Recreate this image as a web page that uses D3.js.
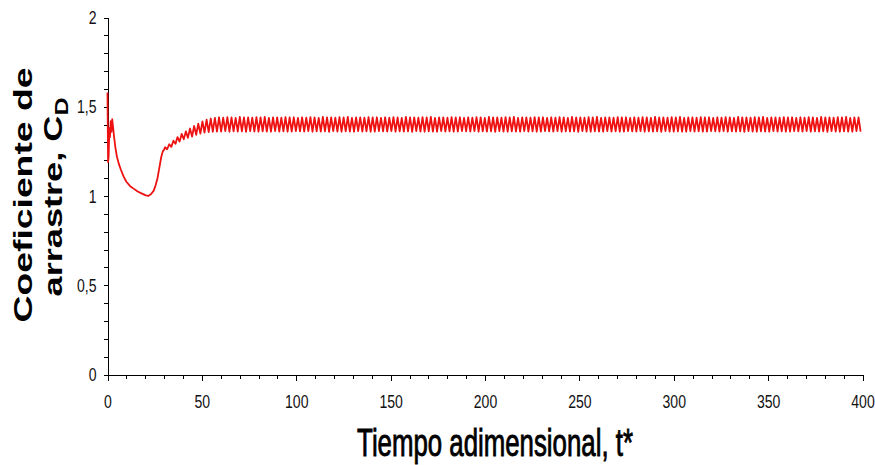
<!DOCTYPE html>
<html><head><meta charset="utf-8">
<script src="https://cdn.jsdelivr.net/npm/d3@7"></script>
<style>body{margin:0;background:#fff}</style></head>
<body><svg id="c" width="875" height="465"></svg>
<script>
// ---- data ----
const transientT  = [0, 0.3, 0.6, 1.0, 1.3, 1.7, 2.1, 2.5, 3.0, 3.5, 4.2, 5, 6, 7, 8.5, 10, 12, 14, 16, 18, 20, 21.5, 23, 24.5, 25.5, 26.5, 27.5, 28.5, 29.3, 30];
const transientCD = [1.58, 1.19, 1.22, 1.38, 1.33, 1.42, 1.36, 1.43, 1.38, 1.33, 1.27, 1.22, 1.18, 1.15, 1.11, 1.08, 1.055, 1.04, 1.025, 1.015, 1.005, 1.0, 1.01, 1.03, 1.06, 1.10, 1.16, 1.22, 1.25, 1.26];
const oscStartT = 30.5, oscStepT = 1.1;
const oscCD = [
1.273,1.262,1.290,1.275,1.310,1.292,1.330,1.305,1.348,1.318,1.362,1.326,1.378,1.333,1.392,1.343,1.405,1.350,1.418,1.355,1.428,1.358,1.434,1.360,1.438,1.361,
1.441,1.361,1.439,1.363,1.442,1.360,1.440,1.362,1.438,1.361,1.443,1.362,1.440,1.359,1.441,1.363,1.439,1.361,1.442,1.360,
1.440,1.362,1.443,1.361,1.438,1.360,1.441,1.363,1.440,1.361,1.439,1.362,1.442,1.360,1.440,1.361,1.441,1.363,1.438,1.362,
1.441,1.361,1.439,1.363,1.442,1.360,1.440,1.362,1.438,1.361,1.443,1.362,1.440,1.359,1.441,1.363,1.439,1.361,1.442,1.360,
1.440,1.362,1.443,1.361,1.438,1.360,1.441,1.363,1.440,1.361,1.439,1.362,1.442,1.360,1.440,1.361,1.441,1.363,1.438,1.362,
1.441,1.361,1.439,1.363,1.442,1.360,1.440,1.362,1.438,1.361,1.443,1.362,1.440,1.359,1.441,1.363,1.439,1.361,1.442,1.360,
1.440,1.362,1.443,1.361,1.438,1.360,1.441,1.363,1.440,1.361,1.439,1.362,1.442,1.360,1.440,1.361,1.441,1.363,1.438,1.362,
1.441,1.361,1.439,1.363,1.442,1.360,1.440,1.362,1.438,1.361,1.443,1.362,1.440,1.359,1.441,1.363,1.439,1.361,1.442,1.360,
1.440,1.362,1.443,1.361,1.438,1.360,1.441,1.363,1.440,1.361,1.439,1.362,1.442,1.360,1.440,1.361,1.441,1.363,1.438,1.362,
1.441,1.361,1.439,1.363,1.442,1.360,1.440,1.362,1.438,1.361,1.443,1.362,1.440,1.359,1.441,1.363,1.439,1.361,1.442,1.360,
1.440,1.362,1.443,1.361,1.438,1.360,1.441,1.363,1.440,1.361,1.439,1.362,1.442,1.360,1.440,1.361,1.441,1.363,1.438,1.362,
1.441,1.361,1.439,1.363,1.442,1.360,1.440,1.362,1.438,1.361,1.443,1.362,1.440,1.359,1.441,1.363,1.439,1.361,1.442,1.360,
1.440,1.362,1.443,1.361,1.438,1.360,1.441,1.363,1.440,1.361,1.439,1.362,1.442,1.360,1.440,1.361,1.441,1.363,1.438,1.362,
1.441,1.361,1.439,1.363,1.442,1.360,1.440,1.362,1.438,1.361,1.443,1.362,1.440,1.359,1.441,1.363,1.439,1.361,1.442,1.360,
1.440,1.362,1.443,1.361,1.438,1.360,1.441,1.363,1.440,1.361,1.439,1.362,1.442,1.360,1.440,1.361,1.441,1.363,1.438,1.362,
1.441,1.361,1.439,1.363,1.442,1.360,1.440,1.362,1.438,1.361,1.443,1.362,1.440,1.359,1.441,1.363,1.439,1.361,1.442,1.360,
1.440,1.362,1.443,1.361,1.438,1.360,1.441,1.363,1.440,1.361
];
const xTickValues = [0, 50, 100, 150, 200, 250, 300, 350, 400];
const xTickLabels = ["0", "50", "100", "150", "200", "250", "300", "350", "400"];
const yTickValues = [0, 0.5, 1, 1.5, 2];
const yTickLabels = ["0", "0,5", "1", "1,5", "2"];
const xMinorStep = 10, yMinorStep = 0.1;
const xTitle = "Tiempo adimensional, t*";
const yTitle1 = "Coeficiente de";
const yTitle2 = "arrastre, C";
const yTitleSub = "D";

// ---- chart ----
const svg = d3.select("#c");
svg.append("rect").attr("width", 875).attr("height", 465).attr("fill", "#fff");

const x = d3.scaleLinear().domain([0, 400]).range([107.5, 862.5]);
const y = d3.scaleLinear().domain([0, 2]).range([374.5, 17.5]);

const pts = transientT.map((t, i) => [t, transientCD[i]])
  .concat(oscCD.map((v, i) => [oscStartT + i * oscStepT, v]));

const xMinor = d3.range(0, 400 + 1e-9, xMinorStep);
const yMinor = d3.range(0, 2 + 1e-9, yMinorStep);

// minor ticks
svg.append("g").attr("transform", "translate(0,374.5)")
  .call(d3.axisBottom(x).tickValues(xMinor).tickSize(4).tickFormat(""))
  .call(g => g.select(".domain").remove());
svg.append("g").attr("transform", "translate(107.5,0)")
  .call(d3.axisLeft(y).tickValues(yMinor).tickSize(4).tickFormat(""))
  .call(g => g.select(".domain").remove());

// major axes
const xa = svg.append("g").attr("transform", "translate(0,374.5)")
  .call(d3.axisBottom(x).tickValues(xTickValues).tickSizeOuter(0).tickSize(6)
    .tickFormat((d, i) => xTickLabels[i]));
const ya = svg.append("g").attr("transform", "translate(107.5,0)")
  .call(d3.axisLeft(y).tickValues(yTickValues).tickSizeOuter(0).tickSize(4)
    .tickFormat((d, i) => yTickLabels[i]));

svg.selectAll("g").attr("shape-rendering", "crispEdges");
svg.selectAll(".domain, .tick line").attr("stroke", "#000").attr("stroke-width", 1);

const tickFont = "'Liberation Sans', Arial, sans-serif";
xa.selectAll("text").attr("font-family", tickFont).attr("font-size", 18).attr("fill", "#111")
  .attr("y", 21).attr("dy", "0.71em").attr("transform", "scale(0.78,1)");
ya.selectAll("text").attr("font-family", tickFont).attr("font-size", 18).attr("fill", "#111")
  .attr("x", -11 / 0.78).attr("dy", "0.34em").attr("transform", "scale(0.78,1)");

// line
svg.append("path")
  .datum(pts)
  .attr("fill", "none")
  .attr("stroke", "#ee1111")
  .attr("stroke-width", 1.8)
  .attr("stroke-linejoin", "round")
  .attr("d", d3.line().x(d => x(d[0])).y(d => y(d[1])));

// x title
const xt = svg.append("text").text(xTitle)
  .attr("font-family", "'Liberation Sans', Arial, sans-serif")
  .attr("font-size", 38).attr("font-weight", "normal").attr("fill", "#000")
  .attr("stroke", "#000").attr("stroke-width", 0.9)
  .attr("text-anchor", "middle");
{
  const w = xt.node().getComputedTextLength();
  xt.attr("transform", `translate(495,456) scale(${276 / w},1)`);
}

// y title (two lines, rotated)
function rotTitle(build, cx, cy, len) {
  const t = svg.append("text")
    .attr("font-family", "'Liberation Sans', Arial, sans-serif")
    .attr("font-size", 26).attr("font-weight", "bold").attr("fill", "#000")
    .attr("text-anchor", "middle");
  build(t);
  const w = t.node().getComputedTextLength();
  t.attr("transform", `translate(${cx},${cy}) rotate(-90) scale(${len / w},1)`);
}
rotTitle(t => t.text(yTitle1), 32, 195, 255);
rotTitle(t => {
  t.append("tspan").text(yTitle2);
  t.append("tspan").text(yTitleSub).attr("font-size", 18).attr("dy", 6);
}, 62, 197, 199);
</script></body></html>
